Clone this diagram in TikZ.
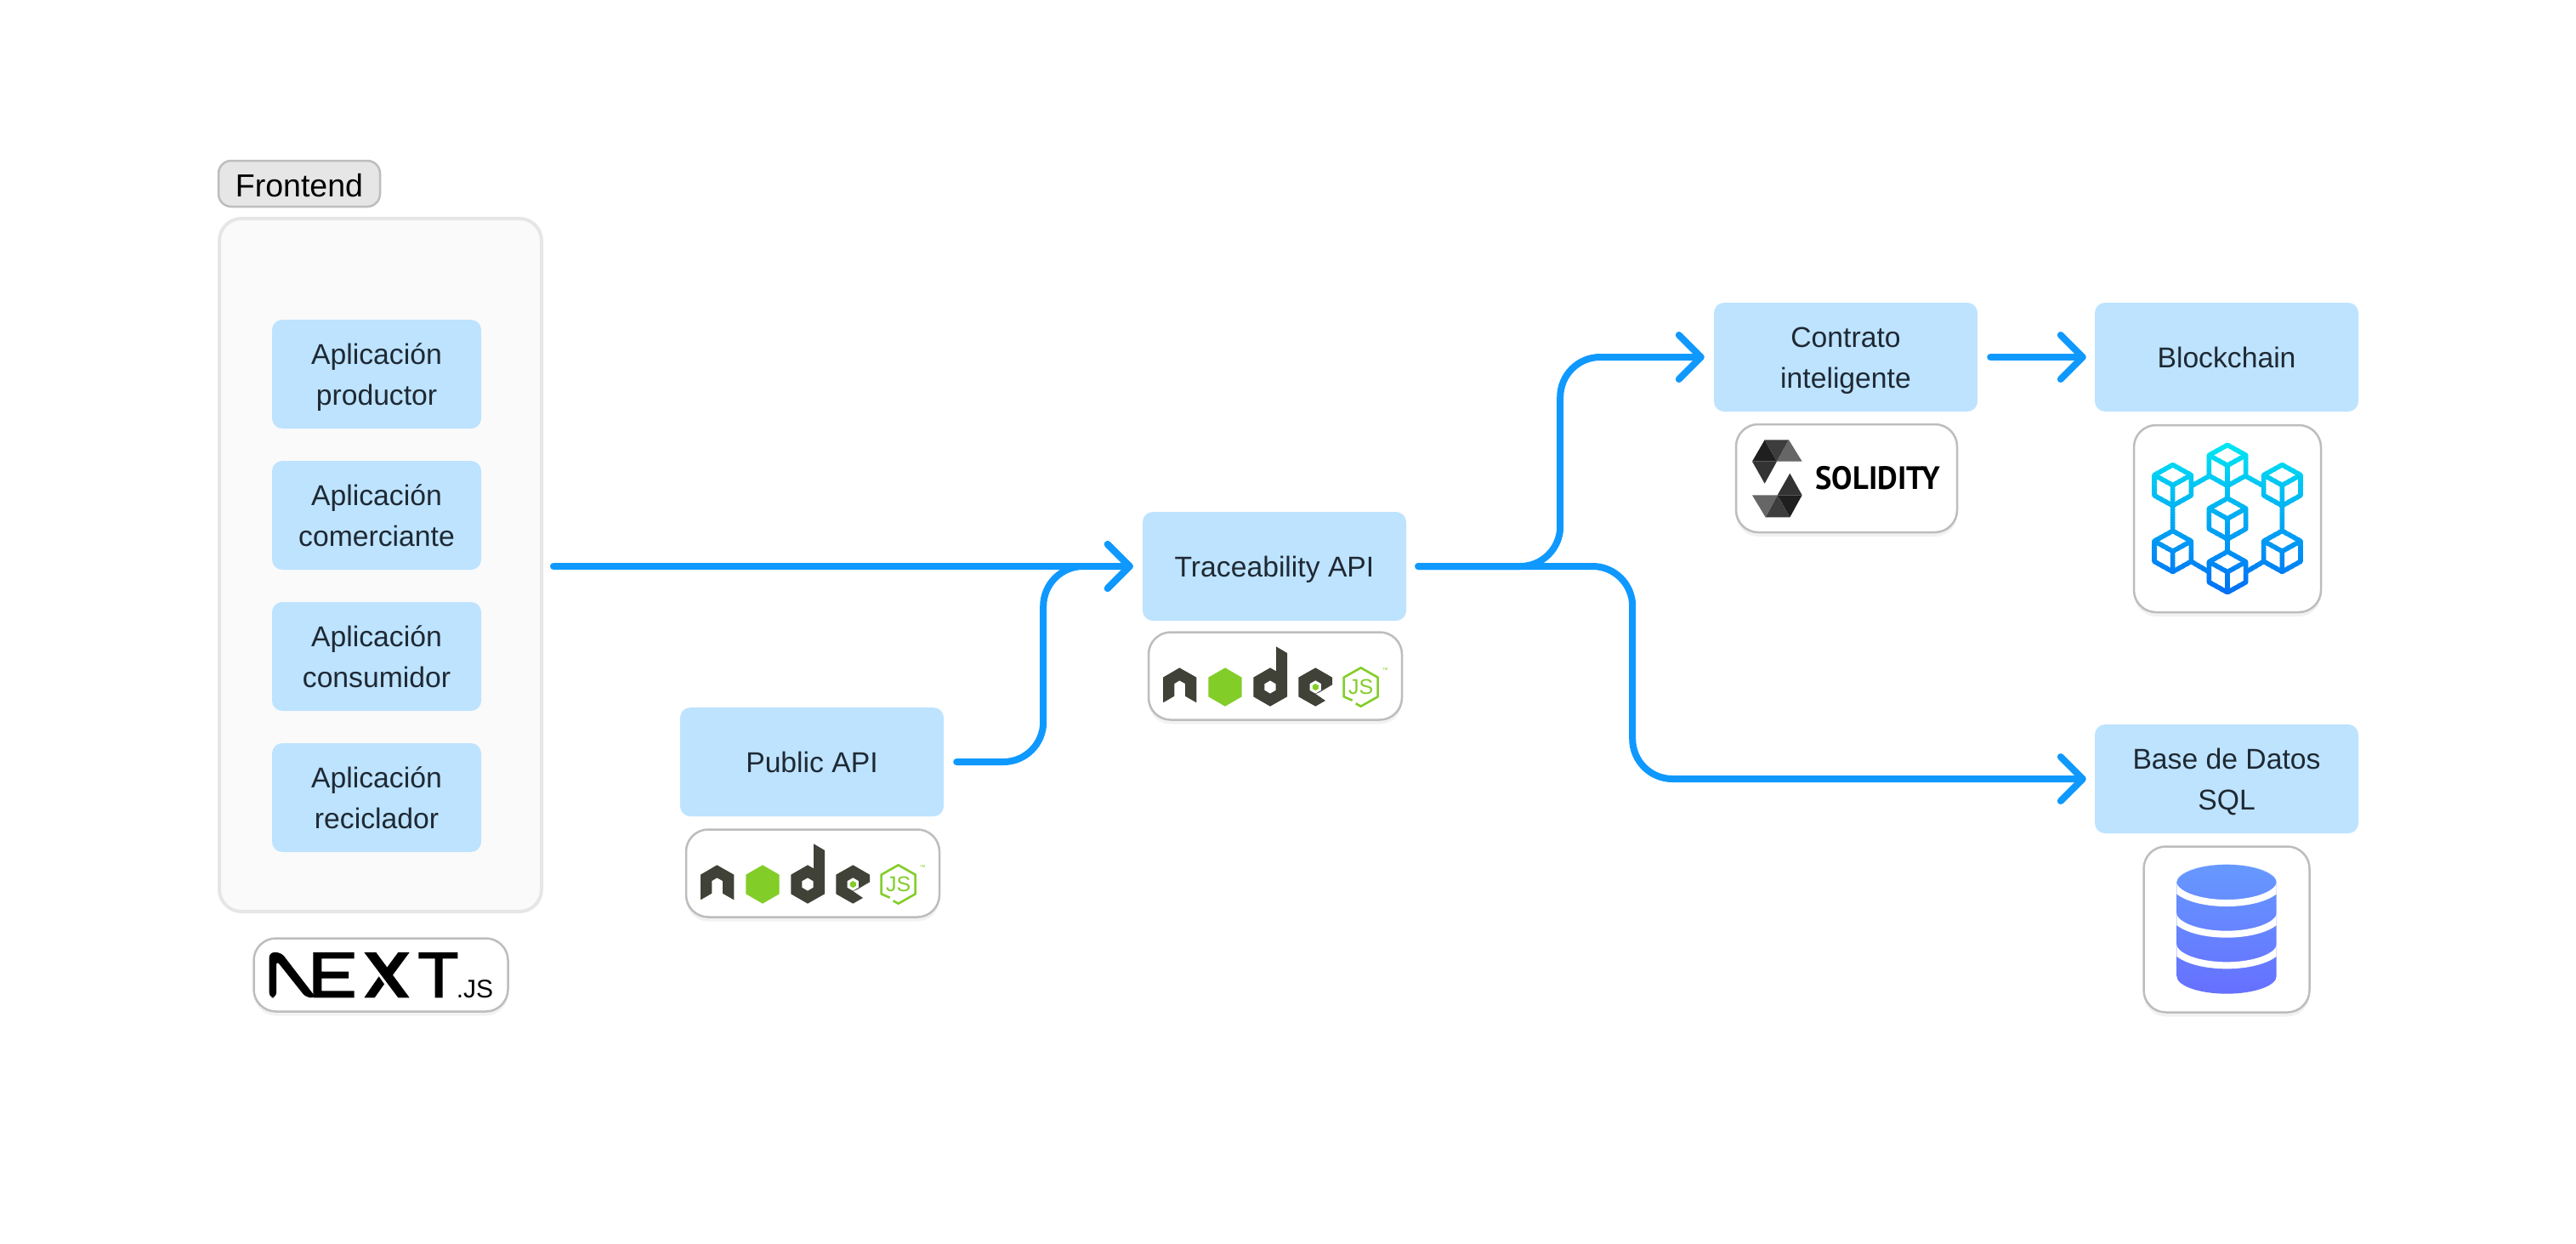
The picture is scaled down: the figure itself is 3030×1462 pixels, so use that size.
\documentclass[tikz,border=0pt]{standalone}
\usepackage{fontspec}
\usepackage{graphicx}
\setmainfont{Liberation Sans}
\newfontfamily\soliditylogofont{PT Sans}
\usetikzlibrary{arrows.meta,shadows}
\definecolor{boxblue}{HTML}{BDE3FF}
\definecolor{boxtext}{HTML}{1F2933}
\definecolor{flowblue}{HTML}{0F99FF}
\definecolor{panelfill}{HTML}{FAFAFA}
\definecolor{paneledge}{HTML}{E6E6E6}
\definecolor{logoedge}{HTML}{BDBDBD}
\definecolor{nodedark}{HTML}{404137}
\definecolor{nodegreen}{HTML}{83CD29}
\definecolor{cubetop}{HTML}{00E8F2}
\definecolor{cubebot}{HTML}{0070F5}
\definecolor{dbtop}{HTML}{6699FF}
\definecolor{dbbot}{HTML}{6670FF}
% fixed line box, so descenders do not shift a label
\newcommand\lb{\rule[-12pt]{0pt}{48pt}}
% hexagon (pointy top) centred at (#1,#2) with radius #3
\newcommand\hexpath[3]{(#1,#2-#3) -- (#1+0.866*#3,#2-0.5*#3) -- (#1+0.866*#3,#2+0.5*#3) -- (#1,#2+#3) -- (#1-0.866*#3,#2+0.5*#3) -- (#1-0.866*#3,#2-0.5*#3) -- cycle}
% one cube of the blockchain mark
\newcommand\cubepath[2]{
  \draw (#1,#2-72) -- (#1+65,#2-36) -- (#1+65,#2+36) -- (#1,#2+72) -- (#1-65,#2+36) -- (#1-65,#2-36) -- cycle;
  \draw (#1-65,#2-36) -- (#1,#2) -- (#1+65,#2-36) (#1,#2) -- (#1,#2+72);
}
\newcommand\cubenet{
  \cubepath{390}{172}\cubepath{390}{360}\cubepath{390}{548}
  \cubepath{197}{242}\cubepath{583}{242}\cubepath{197}{475}\cubepath{583}{475}
  \draw (262,245) -- (325,210) (455,210) -- (518,245)
        (390,244) -- (390,288) (390,432) -- (390,476)
        (197,314) -- (197,403) (583,314) -- (583,403)
        (262,511) -- (325,548) (455,548) -- (518,511);
}
\newcommand\lowerarc[1]{(169,#1) .. controls (169,#1+40.9) and (253.2,#1+74) .. (357,#1+74) .. controls (460.8,#1+74) and (545,#1+40.9) .. (545,#1)}
\tikzset{
  bluebox/.style={rectangle,rounded corners=12pt,fill=boxblue,text=boxtext,minimum width=310pt,minimum height=128pt,inner sep=0pt,align=center,font=\fontsize{33.7}{48}\selectfont},
  appbox/.style={bluebox,minimum width=246pt},
  panelbox/.style={rectangle,rounded corners=26pt,draw=paneledge,fill=panelfill,line width=4pt,inner sep=0pt},
  tagbox/.style={rectangle,rounded corners=15pt,draw=logoedge,fill=paneledge,line width=2.5pt,inner sep=0pt,text=black,font=\fontsize{37.5}{45}\selectfont},
  logobox/.style={rectangle,rounded corners=26pt,draw=logoedge,fill=white,line width=2.5pt,inner sep=0pt,
    drop shadow={shadow xshift=0pt,shadow yshift=-5pt,opacity=.05,fill=black}},
  flow/.style={draw=flowblue,line width=8pt,line cap=round,rounded corners=47pt},
  flowhead/.style={flow,-{Straight Barb[length=26pt,width=52pt,line width=8pt,round]}},
  pics/nodelogo/.style={code={
    \fill[nodedark] (160,172) -- (220,206) -- (220,295) -- (180,272) -- (180,228) -- (160,217) -- (142,228) -- (142,272) -- (102,295) -- (102,206) -- cycle;
    \fill[nodegreen] \hexpath{321}{240}{68};
    \fill[nodedark,even odd rule] (501,97) -- (540,120) -- (540,274) -- (480,308) -- (421,274) -- (421,206) -- (480,172) -- (501,184) -- cycle \hexpath{480}{240}{23};
    \fill[nodedark] (640,172) -- (699,206) -- (699,230) -- (640,264) -- (675,288) -- (640,308) -- (580,274) -- (580,206) -- cycle;
    \fill[white] \hexpath{640}{240}{23};
    \fill[nodedark] (640,264) -- (660,252) -- (699,230) -- (699,232) -- (655,258) -- cycle;
    \fill[nodegreen] \hexpath{640}{240}{12};
    \draw[nodegreen,line width=2.6pt,line join=round] (770,287) -- (740,274) -- (740,206) -- (800,172) -- (860,206) -- (860,274) -- (800,308) -- (782,298);
    \node[text=nodegreen,inner sep=0pt,font=\fontsize{25}{25}\selectfont] at (800,240) {JS};
    \node[text=nodegreen,inner sep=0pt,font=\fontsize{7}{7}\selectfont] at (886,180) {™};
  }},
}
\begin{document}
\begin{tikzpicture}[x=1pt,y=-1pt,line join=miter]
\useasboundingbox (0,0) rectangle (3030,1462);
\fill[white] (0,0) rectangle (3030,1462);

% panel and its tag
\node[tagbox,minimum width=190pt,minimum height=54pt] (tag) at (352,216) {\rule[-8pt]{0pt}{47pt}Frontend};
\node[panelbox,minimum width=379pt,minimum height=815pt] (panel) at (447.5,664.5) {};

% application boxes
\node[appbox] (prod) at (443,440) {\lb Aplicación\\\lb productor};
\node[appbox] (com) at (443,606) {\lb Aplicación\\\lb comerciante};
\node[appbox] (cons) at (443,772) {\lb Aplicación\\\lb consumidor};
\node[appbox] (rec) at (443,938) {\lb Aplicación\\\lb reciclador};

% services
\node[bluebox] (public) at (955,896) {\lb Public API};
\node[bluebox] (trace) at (1499,666) {\lb Traceability API};
\node[bluebox] (contract) at (2171,420) {\lb Contrato\\\lb inteligente};
\node[bluebox] (chain) at (2619,420) {\lb Blockchain};
\node[bluebox] (sql) at (2619,916) {\lb Base de Datos\\\lb SQL};

% logo frames
\node[logobox,minimum width=299pt,minimum height=86pt] (nextlogo) at (448,1146.5) {};
\node[logobox,minimum width=298pt,minimum height=103pt] (publiclogo) at (956,1027) {};
\node[logobox,minimum width=298pt,minimum height=103pt] (tracelogo) at (1500,795) {};
\node[logobox,minimum width=260pt,minimum height=127pt] (sollogo) at (2172,562.5) {};
\node[logobox,minimum width=220pt,minimum height=220pt] (chainlogo) at (2620,610) {};
\node[logobox,minimum width=195pt,minimum height=195pt] (dblogo) at (2619,1093) {};

% NEXT.JS mark
\begin{scope}[shift={(280,1090)},scale=1/3]
  \fill[black,rounded corners=6pt] (110,90) -- (152,90) -- (275,250) -- (240,250) -- (135,118) -- (135,250) -- (110,250) -- cycle;
  \fill[black] (265,90) -- (410,90) -- (410,112) -- (295,112) -- (295,158) -- (390,158) -- (390,182) -- (295,182) -- (295,226) -- (410,226) -- (410,250) -- (265,250) -- cycle;
  \fill[black] (445,90) -- (487,90) -- (605,250) -- (565,250) -- cycle;
  \fill[black] (565,90) -- (605,90) -- (537,182) -- (517,155) -- cycle;
  \fill[black] (497,175) -- (516,202) -- (482,250) -- (445,250) -- cycle;
  \fill[black] (637,90) -- (775,90) -- (775,112) -- (722,112) -- (722,250) -- (695,250) -- (695,112) -- (637,112) -- cycle;
  \node[anchor=base west,inner sep=0pt,font=\fontsize{30}{30}\selectfont] (jstext) at (770,250) {.JS};
\end{scope}

% Node.js marks
\pic[scale=1/3] (pubmark) at (790,960) {nodelogo};
\pic[scale=1/3] (tracemark) at (1334,728) {nodelogo};

% Solidity mark
\begin{scope}[shift={(2030,490)},scale=1/3]
  \fill[black!88] (137,82) -- (93,158) -- (180,158) -- cycle;
  \fill[black!76] (137,82) -- (222,82) -- (180,158) -- cycle;
  \fill[black!60] (222,82) -- (269,158) -- (180,158) -- cycle;
  \fill[black!80] (93,158) -- (180,158) -- (137,236) -- cycle;
  \fill[black!80] (226,200) -- (182,277) -- (269,277) -- cycle;
  \fill[black!88] (182,277) -- (269,277) -- (226,355) -- cycle;
  \fill[black!76] (182,277) -- (226,355) -- (140,355) -- cycle;
  \fill[black!60] (93,277) -- (182,277) -- (140,355) -- cycle;
  \node[anchor=base west,inner sep=0pt,font=\soliditylogofont\fontsize{38}{38}\selectfont\bfseries] (soltext) at (316,256) {\scalebox{0.96}[1]{SOLIDITY}};
\end{scope}

% Blockchain mark, sliced so the strokes carry a vertical gradient
\begin{scope}[shift={(2490,490)},scale=1/3,line width=5.6pt,line join=round]
  \foreach \i in {0,...,59}{
    \pgfmathsetmacro\p{100*\i/59}
    \colorlet{bandc}{cubebot!\p!cubetop}
    \begin{scope}[draw=bandc]
      \clip (100,85+\i*9) rectangle (680,85+\i*9+10);
      \cubenet
    \end{scope}
  }
\end{scope}

% Database mark
\begin{scope}[shift={(2500,980)},scale=1/3]
  \def\dbshape{(181,172) .. controls (181,138) and (260,110) .. (357,110) .. controls (454,110) and (533,138) .. (533,172) -- (533,504) .. controls (533,538) and (454,566) .. (357,566) .. controls (260,566) and (181,538) .. (181,504) -- cycle}
  \shade[top color=dbtop,bottom color=dbbot] \dbshape;
  \begin{scope}
    \clip \dbshape;
    \draw[white,line width=8pt] (357,172) ellipse [x radius=188,y radius=74];
    \draw[white,line width=8pt] \lowerarc{282};
    \draw[white,line width=8pt] \lowerarc{392};
  \end{scope}
\end{scope}

% connectors
\draw[flowhead] ([xshift=12pt]panel.east |- trace.west) -- ([xshift=-11pt]trace.west);
\draw[flowhead] ([xshift=15pt]public.east) -- ([xshift=117pt]public.east) -- ([xshift=117pt]public.east |- trace.west) -- ([xshift=-11pt]trace.west);
\draw[flowhead] ([xshift=14pt]trace.east) -- ([xshift=181pt]trace.east) -- ([xshift=181pt]trace.east |- contract.west) -- ([xshift=-11pt]contract.west);
\draw[flowhead] ([xshift=14pt]trace.east) -- ([xshift=266pt]trace.east) -- ([xshift=266pt]trace.east |- sql.west) -- ([xshift=-10pt]sql.west);
\draw[flowhead] ([xshift=15pt]contract.east) -- ([xshift=-10pt]chain.west);
\end{tikzpicture}
\end{document}
